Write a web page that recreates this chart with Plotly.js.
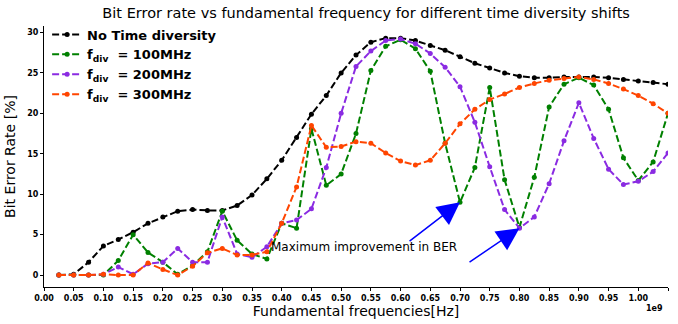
<!DOCTYPE html>
<html>
<head>
<meta charset="utf-8">
<script src="https://cdn.plot.ly/plotly-3.0.1.min.js"></script>
<style>html,body{margin:0;padding:0;background:#fff}#chart{width:678px;height:324px}</style>
</head>
<body>
<div id="chart"></div>
<script>
const freq = [0.025,0.05,0.075,0.1,0.125,0.15,0.175,0.2,0.225,0.25,0.275,0.3,0.325,0.35,0.375,0.4,0.425,0.45,0.475,0.5,0.525,0.55,0.575,0.6,0.625,0.65,0.675,0.7,0.725,0.75,0.775,0.8,0.825,0.85,0.875,0.9,0.925,0.95,0.975,1.0,1.025,1.05];
const berNoDiv = [0,0.1,1.6,3.6,4.4,5.3,6.4,7.2,7.9,8.1,8.0,8.0,8.6,9.9,11.9,14.2,17.0,19.9,22.2,25.0,27.2,28.8,29.3,29.3,29.0,28.4,27.8,27.0,26.2,25.6,25.0,24.6,24.4,24.4,24.5,24.5,24.5,24.4,24.2,24.0,23.8,23.6];
const ber100 = [0,0,0,0,1.8,5.0,2.8,1.6,0.1,1.2,2.9,7.9,4.3,2.6,2.0,6.4,5.8,18.1,11.1,12.5,17.5,25.3,28.3,29.1,28.0,25.2,16.3,9.0,13.3,23.2,11.8,5.9,12.1,20.8,23.6,24.4,23.5,20.5,14.5,11.7,14.0,20.0];
const ber200 = [0,0,0,0.1,1.0,0.1,1.4,1.6,3.3,1.6,1.6,7.2,2.6,2.2,3.5,6.4,6.8,8.2,13.3,20.0,25.8,27.7,29.0,29.2,28.6,27.4,25.7,23.3,18.9,13.4,8.1,5.8,7.2,11.3,16.6,21.3,16.9,13.1,11.2,11.6,12.8,15.1];
const ber300 = [0,0,0,0.1,0,0,1.5,0.7,0,1.1,2.75,3.3,2.5,2.5,2.9,6.4,10.9,18.5,15.8,15.9,16.5,16.3,15.1,14.1,13.6,14.2,16.3,18.7,20.5,21.7,22.4,23.2,23.7,24.1,24.3,24.5,24.2,23.7,23.0,22.2,21.2,20.0];
const seriesNames = ['<b>No Time diversity</b>','<b>f<sub>div</sub>&nbsp;&nbsp;= 100MHz</b>','<b>f<sub>div</sub>&nbsp;&nbsp;= 200MHz</b>','<b>f<sub>div</sub>&nbsp;&nbsp;= 300MHz</b>'];
const seriesColors = ['#000000','#008000','#8a2be2','#ff4500'];
const xTicks = [0,0.05,0.1,0.15,0.2,0.25,0.3,0.35,0.4,0.45,0.5,0.55,0.6,0.65,0.7,0.75,0.8,0.85,0.9,0.95,1.0,1.05];
const yTicks = [0,5,10,15,20,25,30];

const ys = [berNoDiv, ber100, ber200, ber300];
const traces = ys.map((y,i)=>({
  x: freq, y: y, name: seriesNames[i], type:'scatter', mode:'lines+markers',
  line:{color:seriesColors[i], width:2, dash:'7px,3px'},
  marker:{color:seriesColors[i], size:5}
}));

const layout = {
  width:678, height:324,
  margin:{l:44, r:10, t:26, b:37},
  paper_bgcolor:'#fff', plot_bgcolor:'#fff',
  showlegend:true,
  title:{text:'Bit Error rate vs fundamental frequency for different time diversity shifts', font:{family:'DejaVu Sans', size:14.5, color:'#000'}, x:0.54, xanchor:'center', y:0.96, yanchor:'middle'},
  font:{family:'DejaVu Sans', color:'#000'},
  xaxis:{range:[0,1.05], tickvals:xTicks, ticktext:xTicks.map(v=>v.toFixed(2)), showgrid:false, zeroline:false,
    showline:true, linecolor:'#000', linewidth:1, ticks:'outside', ticklen:3, tickcolor:'#000',
    tickfont:{family:'DejaVu Sans', size:8, weight:'bold'},
    title:{text:'Fundamental frequencies[Hz]', font:{family:'DejaVu Sans', size:14}, standoff:3}},
  yaxis:{range:[-1.47,30.8], tickvals:yTicks, showgrid:false, zeroline:false,
    showline:true, linecolor:'#000', linewidth:1, ticks:'outside', ticklen:3, tickcolor:'#000',
    tickfont:{family:'DejaVu Sans', size:8, weight:'bold'},
    title:{text:'Bit Error Rate [%]', font:{family:'DejaVu Sans', size:14}, standoff:8}},
  legend:{x:0.005, y:1.025, xanchor:'left', yanchor:'top', bgcolor:'rgba(255,255,255,0)',
    font:{family:'DejaVu Sans', size:13, color:'#000'}, tracegroupgap:0, itemwidth:30},
  annotations:[
    {x:0.70, y:9.0, xref:'x', yref:'y', ax:0.6126, ay:4.07, axref:'x', ayref:'y', text:'', showarrow:true,
     arrowhead:2, arrowsize:3, arrowwidth:1.5, arrowcolor:'#0000ff', standoff:0},
    {x:0.80, y:5.8, xref:'x', yref:'y', ax:0.7135, ay:1.48, axref:'x', ayref:'y', text:'', showarrow:true,
     arrowhead:2, arrowsize:3, arrowwidth:1.5, arrowcolor:'#0000ff', standoff:0},
    {x:0.539, y:3.46, xref:'x', yref:'y', text:'Maximum improvement in BER', showarrow:false,
     font:{family:'DejaVu Sans', size:12, color:'#000'}, xanchor:'center', yanchor:'middle'},
    {x:0.995, y:-0.082, xref:'paper', yref:'paper', text:'<b>1e9</b>', showarrow:false,
     font:{family:'DejaVu Sans', size:8, color:'#000'}, xanchor:'right', yanchor:'middle'}
  ]
};
Plotly.newPlot('chart', traces, layout, {staticPlot:true, displayModeBar:false});
</script>
</body>
</html>
